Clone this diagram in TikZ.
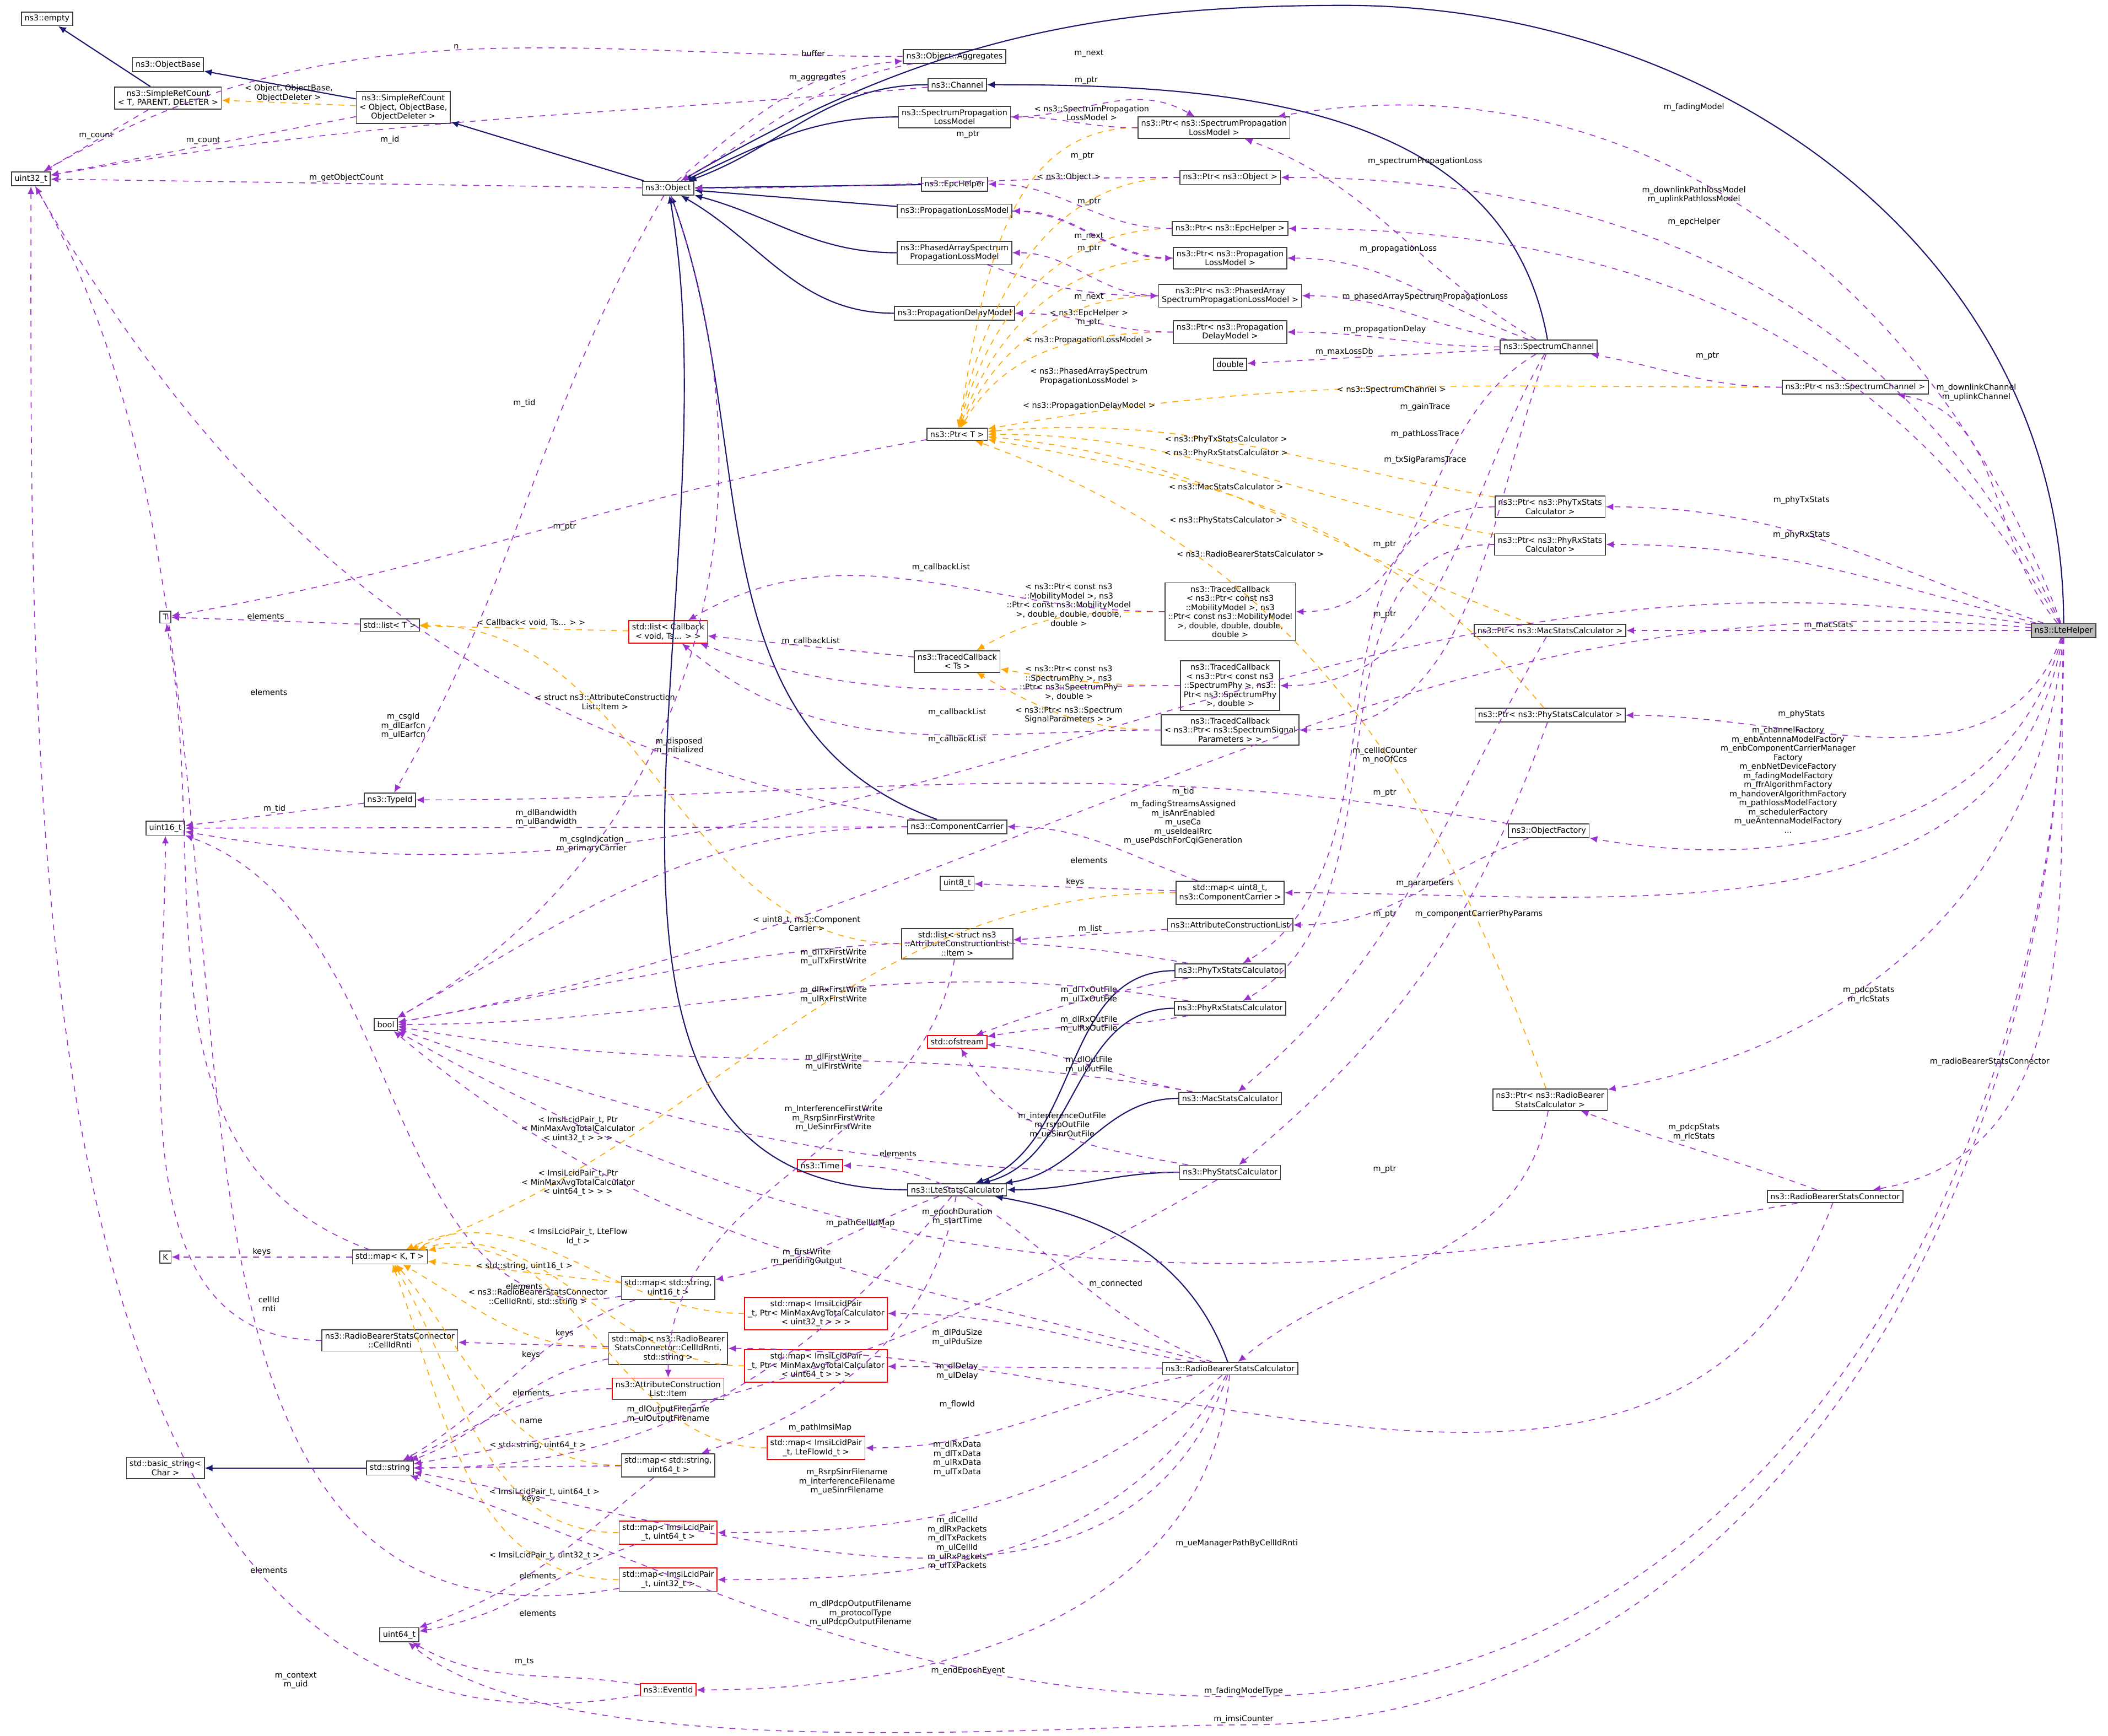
\documentclass[tikz,border=0pt]{standalone}
\usepackage{fontspec}
\setmainfont{DejaVu Sans}
\usetikzlibrary{arrows.meta}
\definecolor{usec}{HTML}{9A32CD}
\definecolor{inhc}{HTML}{191970}
\definecolor{tplc}{HTML}{FFA500}
\tikzset{
 box/.style={draw=black!75,fill=white,font=\fontsize{4.1}{4.7}\selectfont,align=center,inner sep=1.6pt,line width=0.5pt},
 rbox/.style={box,draw=red},
 lbl/.style={font=\fontsize{4.1}{4.7}\selectfont,align=center,inner sep=0.5pt},
 use/.style={draw=usec,dashed,line width=0.45pt,-{Latex[length=4pt,width=3.5pt]}},
 inh/.style={draw=inhc,line width=0.6pt,-{Latex[length=4pt,width=3.5pt]}},
 tpl/.style={draw=tplc,dashed,line width=0.45pt,-{Latex[length=4pt,width=3.5pt]}}
}
\begin{document}
\begin{tikzpicture}[x=0.0244cm,y=-0.0244cm]
\useasboundingbox (0,0) rectangle (1568,1291);
% nodes
\node[box] (empty) at (35,14) {ns3::empty};
\node[box] (objbase) at (125,48) {ns3::ObjectBase};
\node[box] (srcT) at (125,73) {ns3::SimpleRefCount\\< T, PARENT, DELETER >};
\node[box] (u32) at (23,133) {uint32\_t};
\node[box] (srcO) at (300,80) {ns3::SimpleRefCount\\< Object, ObjectBase,\\ObjectDeleter >};
\node[box] (obj) at (497,140) {ns3::Object};
\node[box] (aggr) at (710,42) {ns3::Object::Aggregates};
\node[box] (chan) at (712,63) {ns3::Channel};
\node[box] (splm) at (710,87) {ns3::SpectrumPropagation\\LossModel};
\node[box] (epc) at (710,137) {ns3::EpcHelper};
\node[box] (plm) at (710,157) {ns3::PropagationLossModel};
\node[box] (pas) at (710,188) {ns3::PhasedArraySpectrum\\PropagationLossModel};
\node[box] (pdm) at (710,233) {ns3::PropagationDelayModel};
\node[box] (psplm) at (903,95) {ns3::Ptr< ns3::SpectrumPropagation\\LossModel >};
\node[box] (pobj) at (915,132) {ns3::Ptr< ns3::Object >};
\node[box] (pepc) at (915,170) {ns3::Ptr< ns3::EpcHelper >};
\node[box] (pplm) at (915,192) {ns3::Ptr< ns3::Propagation\\LossModel >};
\node[box] (ppas) at (915,220) {ns3::Ptr< ns3::PhasedArray\\SpectrumPropagationLossModel >};
\node[box] (ppdm) at (915,247) {ns3::Ptr< ns3::Propagation\\DelayModel >};
\node[box] (dbl) at (915,271) {double};
\node[box] (spch) at (1152,258) {ns3::SpectrumChannel};
\node[box] (pspch) at (1380,288) {ns3::Ptr< ns3::SpectrumChannel >};
\node[box] (ptrT) at (712,323) {ns3::Ptr< T >};
\node[box] (pptx) at (1153,377) {ns3::Ptr< ns3::PhyTxStats\\Calculator >};
\node[box] (pprx) at (1153,405) {ns3::Ptr< ns3::PhyRxStats\\Calculator >};
\node[box] (tcmob) at (915,455) {ns3::TracedCallback\\< ns3::Ptr< const ns3\\::MobilityModel >, ns3\\::Ptr< const ns3::MobilityModel\\>, double, double, double,\\double >};
\node[box] (tcts) at (712,492) {ns3::TracedCallback\\< Ts >};
\node[box] (tcphy) at (915,510) {ns3::TracedCallback\\< ns3::Ptr< const ns3\\::SpectrumPhy >, ns3::\\Ptr< ns3::SpectrumPhy\\>, double >};
\node[box] (tcsig) at (915,543) {ns3::TracedCallback\\< ns3::Ptr< ns3::SpectrumSignal\\Parameters > >};
\node[box] (pmac) at (1153,469) {ns3::Ptr< ns3::MacStatsCalculator >};
\node[box] (pphy) at (1153,532) {ns3::Ptr< ns3::PhyStatsCalculator >};
\node[box,fill=black!27] (lte) at (1535,469) {ns3::LteHelper};
\node[box] (T) at (123,459) {T};
\node[box] (listT) at (290,465) {std::list< T >};
\node[rbox] (listcb) at (497,470) {std::list< Callback\\< void, Ts... > >};
\node[box] (u16) at (123,616) {uint16\_t};
\node[box] (tid) at (290,595) {ns3::TypeId};
\node[box] (cc) at (712,615) {ns3::ComponentCarrier};
\node[box] (of) at (1152,618) {ns3::ObjectFactory};
\node[box] (u8) at (712,657) {uint8\_t};
\node[box] (mapcc) at (915,664) {std::map< uint8\_t,\\ns3::ComponentCarrier >};
\node[box] (acl) at (915,688) {ns3::AttributeConstructionList};
\node[box] (listacl) at (712,702) {std::list< struct ns3\\::AttributeConstructionList\\::Item >};
\node[box] (ptx) at (915,722) {ns3::PhyTxStatsCalculator};
\node[box] (prx) at (915,750) {ns3::PhyRxStatsCalculator};
\node[box] (bool) at (287,762) {bool};
\node[rbox] (ofs) at (712,775) {std::ofstream};
\node[box] (mac) at (915,817) {ns3::MacStatsCalculator};
\node[box] (phy) at (915,872) {ns3::PhyStatsCalculator};
\node[box] (prbsc) at (1153,818) {ns3::Ptr< ns3::RadioBearer\\StatsCalculator >};
\node[box] (rbscon) at (1365,890) {ns3::RadioBearerStatsConnector};
\node[rbox] (time) at (610,867) {ns3::Time};
\node[box] (lsc) at (712,885) {ns3::LteStatsCalculator};
\node[box] (K) at (123,935) {K};
\node[box] (mapKT) at (290,935) {std::map< K, T >};
\node[box] (mapsu16) at (497,958) {std::map< std::string,\\uint16\_t >};
\node[box] (cir) at (290,997) {ns3::RadioBearerStatsConnector\\::CellIdRnti};
\node[box] (mapcir) at (497,1003) {std::map< ns3::RadioBearer\\StatsConnector::CellIdRnti,\\std::string >};
\node[rbox] (map32p) at (607,977) {std::map< ImsiLcidPair\\\_t, Ptr< MinMaxAvgTotalCalculator\\< uint32\_t > > >};
\node[rbox] (map64p) at (607,1016) {std::map< ImsiLcidPair\\\_t, Ptr< MinMaxAvgTotalCalculator\\< uint64\_t > > >};
\node[box] (rbsc) at (915,1018) {ns3::RadioBearerStatsCalculator};
\node[rbox] (item) at (497,1033) {ns3::AttributeConstruction\\List::Item};
\node[box] (bstr) at (123,1092) {std::basic\_string<\\Char >};
\node[box] (str) at (290,1092) {std::string};
\node[rbox] (mapflow) at (607,1077) {std::map< ImsiLcidPair\\\_t, LteFlowId\_t >};
\node[box] (mapsu64) at (497,1090) {std::map< std::string,\\uint64\_t >};
\node[rbox] (mapi64) at (497,1140) {std::map< ImsiLcidPair\\\_t, uint64\_t >};
\node[rbox] (mapi32) at (497,1175) {std::map< ImsiLcidPair\\\_t, uint32\_t >};
\node[box] (u64) at (297,1216) {uint64\_t};
\node[rbox] (evid) at (497,1257) {ns3::EventId};
\coordinate (fmt) at (925,1262);
\coordinate (imsi) at (925,1283);
\coordinate (topc) at (1000,4);
% inheritance
\draw[inh] (srcT) -- (empty);
\draw[inh] (srcO) -- (objbase);
\draw[inh] (obj) -- (srcO);
\draw[inh] (chan) to[out=180,in=20] (obj);
\draw[inh] (splm) to[out=180,in=25] (obj);
\draw[inh] (epc) -- (obj);
\draw[inh] (plm) -- (obj);
\draw[inh] (pas) to[out=180,in=-15] (obj);
\draw[inh] (pdm) to[out=180,in=-30] (obj);
\draw[inh] (cc) to[out=160,in=-70] (obj);
\draw[inh] (lsc) to[out=180,in=-80] (obj);
\draw[inh] (spch) to[out=100,in=0] (chan);
\draw[inh] (ptx) to[out=180,in=20] (lsc);
\draw[inh] (prx) to[out=180,in=15] (lsc);
\draw[inh] (mac) to[out=180,in=8] (lsc);
\draw[inh] (phy) to[out=180,in=0] (lsc);
\draw[inh] (rbsc) to[out=110,in=-10] (lsc);
\draw[inh] (str) -- (bstr);
\draw[inh] (lte.north) to[out=90,in=0] (topc) to[out=180,in=30] (obj);
% templates
\draw[tpl] (srcO) -- node[lbl,above]{< Object, ObjectBase,\\ObjectDeleter >} (srcT);
\draw[tpl] (psplm) to[out=180,in=80] (ptrT);
\node[lbl] at (812,84) {< ns3::SpectrumPropagation\\LossModel >};
\draw[tpl] (pobj) to[out=180,in=78] (ptrT);
\node[lbl] at (795,132) {< ns3::Object >};
\draw[tpl] (pepc) to[out=180,in=75] (ptrT);
\node[lbl] at (810,233) {< ns3::EpcHelper >};
\draw[tpl] (pplm) to[out=180,in=70] (ptrT);
\node[lbl] at (810,253) {< ns3::PropagationLossModel >};
\draw[tpl] (ppas) to[out=180,in=65] (ptrT);
\node[lbl] at (810,280) {< ns3::PhasedArraySpectrum\\PropagationLossModel >};
\draw[tpl] (ppdm) to[out=180,in=60] (ptrT);
\node[lbl] at (810,302) {< ns3::PropagationDelayModel >};
\draw[tpl] (pspch) to[out=180,in=10] (ptrT);
\node[lbl] at (1035,290) {< ns3::SpectrumChannel >};
\draw[tpl] (pptx) to[out=170,in=5] (ptrT);
\node[lbl] at (912,327) {< ns3::PhyTxStatsCalculator >};
\draw[tpl] (pprx) to[out=170,in=0] (ptrT);
\node[lbl] at (912,337) {< ns3::PhyRxStatsCalculator >};
\draw[tpl] (pmac) to[out=160,in=-5] (ptrT);
\node[lbl] at (912,362) {< ns3::MacStatsCalculator >};
\draw[tpl] (pphy) to[out=130,in=-10] (ptrT);
\node[lbl] at (912,387) {< ns3::PhyStatsCalculator >};
\draw[tpl] (prbsc) to[out=110,in=-20] (ptrT);
\node[lbl] at (930,412) {< ns3::RadioBearerStatsCalculator >};
\draw[tpl] (tcmob) to[out=180,in=30] (tcts);
\node[lbl] at (795,450) {< ns3::Ptr< const ns3\\::MobilityModel >, ns3\\::Ptr< const ns3::MobilityModel\\>, double, double, double,\\double >};
\draw[tpl] (tcphy) to[out=180,in=-10] (tcts);
\node[lbl] at (795,508) {< ns3::Ptr< const ns3\\::SpectrumPhy >, ns3\\::Ptr< ns3::SpectrumPhy\\>, double >};
\draw[tpl] (tcsig) to[out=180,in=-30] (tcts);
\node[lbl] at (795,532) {< ns3::Ptr< ns3::Spectrum\\SignalParameters > >};
\draw[tpl] (listcb) -- (listT);
\node[lbl] at (395,463) {< Callback< void, Ts... > >};
\draw[tpl] (listacl) to[out=180,in=0] (listT);
\node[lbl] at (450,522) {< struct ns3::AttributeConstruction\\List::Item >};
\draw[tpl] (mapcc) to[out=180,in=20] (mapKT);
\node[lbl] at (600,687) {< uint8\_t, ns3::Component\\Carrier >};
\draw[tpl] (mapsu16) -- (mapKT);
\node[lbl] at (390,942) {< std::string, uint16\_t >};
\draw[tpl] (mapcir) to[out=180,in=-30] (mapKT);
\node[lbl] at (400,965) {< ns3::RadioBearerStatsConnector\\::CellIdRnti, std::string >};
\draw[tpl] (map32p) to[out=180,in=25] (mapKT);
\node[lbl] at (430,840) {< ImsiLcidPair\_t, Ptr\\< MinMaxAvgTotalCalculator\\< uint32\_t > > >};
\draw[tpl] (map64p) to[out=180,in=15] (mapKT);
\node[lbl] at (430,880) {< ImsiLcidPair\_t, Ptr\\< MinMaxAvgTotalCalculator\\< uint64\_t > > >};
\draw[tpl] (mapflow) to[out=180,in=10] (mapKT);
\node[lbl] at (430,920) {< ImsiLcidPair\_t, LteFlow\\Id\_t >};
\draw[tpl] (mapsu64) to[out=180,in=-50] (mapKT);
\node[lbl] at (400,1075) {< std::string, uint64\_t >};
\draw[tpl] (mapi64) to[out=180,in=-60] (mapKT);
\node[lbl] at (405,1110) {< ImsiLcidPair\_t, uint64\_t >};
\draw[tpl] (mapi32) to[out=180,in=-70] (mapKT);
\node[lbl] at (405,1157) {< ImsiLcidPair\_t, uint32\_t >};
% usage
\draw[use] (aggr) to[out=180,in=30] node[lbl,pos=0.5,above]{n} (u32);
\draw[use] (aggr) to[out=190,in=30] (obj);
\node[lbl] at (605,40) {buffer};
\draw[use] (obj) to[out=40,in=185] (aggr);
\node[lbl] at (608,58) {m\_aggregates};
\draw[use] (srcT) -- node[lbl,above]{m\_count} (u32);
\draw[use] (srcO) -- node[lbl,above]{m\_count} (u32);
\draw[use] (chan) to[out=185,in=10] (u32);
\node[lbl] at (290,104) {m\_id};
\draw[use] (obj) -- node[lbl,above]{m\_getObjectCount} (u32);
\draw[use] (obj) to[out=-120,in=60] (tid);
\node[lbl] at (390,300) {m\_tid};
\draw[use] (obj) to[out=-70,in=30] (bool);
\node[lbl] at (505,555) {m\_disposed\\m\_initialized};
\draw[use] (splm) to[out=0,in=150] (psplm);
\node[lbl] at (810,40) {m\_next};
\draw[use] (psplm) to[out=180,in=0] (splm);
\node[lbl] at (808,60) {m\_ptr};
\draw[use] (pobj) to[out=180,in=0] (obj);
\node[lbl] at (720,100) {m\_ptr};
\draw[use] (pepc) to[out=180,in=0] (epc);
\node[lbl] at (805,116) {m\_ptr};
\draw[use] (plm) to[out=0,in=180] (pplm);
\node[lbl] at (810,176) {m\_next};
\draw[use] (pplm) to[out=180,in=0] (plm);
\node[lbl] at (810,150) {m\_ptr};
\draw[use] (pas) to[out=-20,in=180] (ppas);
\node[lbl] at (810,221) {m\_next};
\draw[use] (ppas) to[out=180,in=0] (pas);
\node[lbl] at (810,185) {m\_ptr};
\draw[use] (ppdm) to[out=180,in=0] (pdm);
\node[lbl] at (810,240) {m\_ptr};
\draw[use] (spch) to[out=150,in=-20] (psplm);
\node[lbl] at (1060,120) {m\_spectrumPropagationLoss};
\draw[use] (spch) to[out=160,in=0] (pplm);
\node[lbl] at (1040,185) {m\_propagationLoss};
\draw[use] (spch) to[out=170,in=0] (ppas);
\node[lbl] at (1060,221) {m\_phasedArraySpectrumPropagationLoss};
\draw[use] (spch) to[out=180,in=0] (ppdm);
\node[lbl] at (1030,245) {m\_propagationDelay};
\draw[use] (spch) -- (dbl);
\node[lbl] at (1000,262) {m\_maxLossDb};
\draw[use] (spch) to[out=-150,in=0] (tcmob);
\node[lbl] at (1060,303) {m\_gainTrace};
\draw[use] (spch) to[out=-120,in=0] (tcphy);
\node[lbl] at (1060,323) {m\_pathLossTrace};
\draw[use] (spch) to[out=-110,in=0] (tcsig);
\node[lbl] at (1060,342) {m\_txSigParamsTrace};
\draw[use] (pspch) to[out=180,in=-10] (spch);
\node[lbl] at (1270,265) {m\_ptr};
\draw[use] (ptrT) to[out=190,in=10] (T);
\node[lbl] at (420,392) {m\_ptr};
\draw[use] (listT) -- node[lbl,above]{elements} (T);
\draw[use] (mapKT) to[out=160,in=-80] (T);
\node[lbl] at (200,515) {elements};
\draw[use] (tcts) -- node[lbl,above]{m\_callbackList} (listcb);
\draw[use] (tcmob) to[out=180,in=30] (listcb);
\node[lbl] at (700,422) {m\_callbackList};
\draw[use] (tcphy) to[out=180,in=-20] (listcb);
\node[lbl] at (712,530) {m\_callbackList};
\draw[use] (tcsig) to[out=180,in=-40] (listcb);
\node[lbl] at (712,550) {m\_callbackList};
\draw[use] (cc) -- node[lbl,above]{m\_dlBandwidth\\m\_ulBandwidth} (u16);
\draw[use] (cc) to[out=170,in=-60] (u32);
\node[lbl] at (300,540) {m\_csgId\\m\_dlEarfcn\\m\_ulEarfcn};
\draw[use] (cc) to[out=180,in=30] (bool);
\node[lbl] at (440,628) {m\_csgIndication\\m\_primaryCarrier};
\draw[use] (tid) -- node[lbl,above]{m\_tid} (u16);
\draw[use] (of) to[out=170,in=0] (tid);
\node[lbl] at (880,589) {m\_tid};
\draw[use] (of) to[out=-160,in=0] (acl);
\node[lbl] at (1060,657) {m\_parameters};
\draw[use] (acl) -- node[lbl,above]{m\_list} (listacl);
\draw[use] (mapcc) -- node[lbl,above]{keys} (u8);
\draw[use] (mapcc) to[out=160,in=0] (cc);
\node[lbl] at (810,640) {elements};
\draw[use] (mapKT) -- node[lbl,above]{keys} (K);
\draw[use] (ptx) to[out=170,in=10] (bool);
\node[lbl] at (620,712) {m\_dlTxFirstWrite\\m\_ulTxFirstWrite};
\draw[use] (ptx) to[out=190,in=20] (ofs);
\node[lbl] at (810,740) {m\_dlTxOutFile\\m\_ulTxOutFile};
\draw[use] (prx) to[out=170,in=0] (bool);
\node[lbl] at (620,740) {m\_dlRxFirstWrite\\m\_ulRxFirstWrite};
\draw[use] (prx) to[out=190,in=10] (ofs);
\node[lbl] at (810,762) {m\_dlRxOutFile\\m\_ulRxOutFile};
\draw[use] (mac) to[out=170,in=-10] (bool);
\node[lbl] at (620,790) {m\_dlFirstWrite\\m\_ulFirstWrite};
\draw[use] (mac) to[out=170,in=-5] (ofs);
\node[lbl] at (810,792) {m\_dlOutFile\\m\_ulOutFile};
\draw[use] (phy) to[out=180,in=-20] (bool);
\node[lbl] at (620,832) {m\_InterferenceFirstWrite\\m\_RsrpSinrFirstWrite\\m\_UeSinrFirstWrite};
\draw[use] (phy) to[out=170,in=-60] (ofs);
\node[lbl] at (790,837) {m\_interferenceOutFile\\m\_rsrpOutFile\\m\_ueSinrOutFile};
\draw[use] (phy) to[out=-150,in=10] (str);
\node[lbl] at (630,1102) {m\_RsrpSinrFilename\\m\_interferenceFilename\\m\_ueSinrFilename};
\draw[use] (pptx) to[out=180,in=30] (ptx);
\node[lbl] at (1030,405) {m\_ptr};
\draw[use] (pprx) to[out=180,in=30] (prx);
\node[lbl] at (1030,457) {m\_ptr};
\draw[use] (pmac) to[out=-120,in=40] (mac);
\node[lbl] at (1030,590) {m\_ptr};
\draw[use] (pphy) to[out=-110,in=40] (phy);
\node[lbl] at (1030,680) {m\_ptr};
\draw[use] (prbsc) to[out=-100,in=40] (rbsc);
\node[lbl] at (1030,870) {m\_ptr};
\draw[use] (lsc) to[out=-130,in=0] (str);
\node[lbl] at (497,1052) {m\_dlOutputFilename\\m\_ulOutputFilename};
\draw[use] (lsc) to[out=-160,in=10] (mapsu16);
\node[lbl] at (640,910) {m\_pathCellIdMap};
\draw[use] (lsc) to[out=-100,in=20] (mapsu64);
\node[lbl] at (610,1062) {m\_pathImsiMap};
\draw[use] (rbsc) to[out=160,in=0] (time);
\node[lbl] at (712,905) {m\_epochDuration\\m\_startTime};
\draw[use] (rbsc) to[out=165,in=-40] (bool);
\node[lbl] at (600,935) {m\_firstWrite\\m\_pendingOutput};
\draw[use] (rbsc) to[out=170,in=0] (map32p);
\node[lbl] at (712,995) {m\_dlPduSize\\m\_ulPduSize};
\draw[use] (rbsc) -- (map64p);
\node[lbl] at (712,1020) {m\_dlDelay\\m\_ulDelay};
\draw[use] (rbsc) to[out=190,in=0] (mapflow);
\node[lbl] at (712,1045) {m\_flowId};
\draw[use] (rbsc) to[out=-140,in=0] (mapi64);
\node[lbl] at (712,1085) {m\_dlRxData\\m\_dlTxData\\m\_ulRxData\\m\_ulTxData};
\draw[use] (rbsc) to[out=-120,in=0] (mapi32);
\node[lbl] at (712,1148) {m\_dlCellId\\m\_dlRxPackets\\m\_dlTxPackets\\m\_ulCellId\\m\_ulRxPackets\\m\_ulTxPackets};
\draw[use] (rbsc) to[out=-110,in=-10] (str);
\node[lbl] at (640,1200) {m\_dlPdcpOutputFilename\\m\_protocolType\\m\_ulPdcpOutputFilename};
\draw[use] (rbsc) to[out=-95,in=0] (evid);
\node[lbl] at (720,1243) {m\_endEpochEvent};
\draw[use] (rbscon) to[out=160,in=-20] (prbsc);
\node[lbl] at (1260,842) {m\_pdcpStats\\m\_rlcStats};
\draw[use] (rbscon) to[out=190,in=-30] (bool);
\node[lbl] at (830,955) {m\_connected};
\draw[use] (rbscon) to[out=-110,in=0] (mapcir);
\node[lbl] at (920,1148) {m\_ueManagerPathByCellIdRnti};
\draw[use] (cir) to[out=180,in=-90] (u16);
\node[lbl] at (200,970) {cellId\\rnti};
\draw[use] (mapsu16) to[out=190,in=-20] (u16);
\node[lbl] at (390,957) {elements};
\draw[use] (mapsu16) to[out=-160,in=30] (str);
\node[lbl] at (395,1008) {keys};
\draw[use] (mapcir) -- (cir);
\node[lbl] at (420,992) {keys};
\draw[use] (mapcir) to[out=-170,in=20] (str);
\node[lbl] at (395,1036) {elements};
\draw[use] (item) to[out=180,in=25] (str);
\node[lbl] at (395,1057) {name};
\draw[use] (listacl) to[out=-100,in=90] (item);
\node[lbl] at (668,858) {elements};
\draw[use] (mapsu64) -- (str);
\node[lbl] at (395,1115) {keys};
\draw[use] (mapsu64) to[out=-140,in=20] (u64);
\node[lbl] at (400,1172) {elements};
\draw[use] (mapi64) to[out=200,in=10] (u64);
\draw[use] (mapi32) to[out=190,in=-60] (u32);
\node[lbl] at (200,1168) {elements};
\node[lbl] at (400,1200) {elements};
\draw[use] (evid) to[out=170,in=-30] (u64);
\node[lbl] at (390,1236) {m\_ts};
\draw[use] (evid) to[out=190,in=-90] (u32);
\node[lbl] at (220,1250) {m\_context\\m\_uid};
% LteHelper
\draw[use] (lte) to[out=110,in=10] (psplm);
\node[lbl] at (1260,80) {m\_fadingModel};
\draw[use] (lte) to[out=115,in=0] (pobj);
\node[lbl] at (1260,145) {m\_downlinkPathlossModel\\m\_uplinkPathlossModel};
\draw[use] (lte) to[out=120,in=0] (pepc);
\node[lbl] at (1260,165) {m\_epcHelper};
\draw[use] (lte) to[out=130,in=-10] (pspch);
\node[lbl] at (1470,292) {m\_downlinkChannel\\m\_uplinkChannel};
\draw[use] (lte) to[out=160,in=0] (pptx);
\node[lbl] at (1340,372) {m\_phyTxStats};
\draw[use] (lte) to[out=165,in=0] (pprx);
\node[lbl] at (1340,398) {m\_phyRxStats};
\draw[use] (lte) -- node[lbl,above]{m\_macStats} (pmac);
\draw[use] (lte) to[out=-110,in=0] (pphy);
\node[lbl] at (1340,531) {m\_phyStats};
\draw[use] (lte) to[out=-105,in=-10] (of);
\node[lbl] at (1330,580) {m\_channelFactory\\m\_enbAntennaModelFactory\\m\_enbComponentCarrierManager\\Factory\\m\_enbNetDeviceFactory\\m\_fadingModelFactory\\m\_ffrAlgorithmFactory\\m\_handoverAlgorithmFactory\\m\_pathlossModelFactory\\m\_schedulerFactory\\m\_ueAntennaModelFactory\\...};
\draw[use] (lte) to[out=-100,in=0] (mapcc);
\node[lbl] at (1100,680) {m\_componentCarrierPhyParams};
\draw[use] (lte) to[out=-95,in=10] (prbsc);
\node[lbl] at (1390,740) {m\_pdcpStats\\m\_rlcStats};
\draw[use] (lte) to[out=-92,in=10] (rbscon);
\node[lbl] at (1480,790) {m\_radioBearerStatsConnector};
\draw[use] (lte) to[out=170,in=-10] (u16);
\node[lbl] at (1030,562) {m\_cellIdCounter\\m\_noOfCcs};
\draw[use] (lte) to[out=175,in=10] (bool);
\node[lbl] at (880,612) {m\_fadingStreamsAssigned\\m\_isAnrEnabled\\m\_useCa\\m\_useIdealRrc\\m\_usePdschForCqiGeneration};
\draw[use] (lte.south) to[out=-90,in=0] (fmt) to[out=180,in=-20] (str);
\node[lbl,above] at (fmt) {m\_fadingModelType};
\draw[use] (lte.south) to[out=-90,in=0] (imsi) to[out=180,in=-40,looseness=0.6] (u64);
\node[lbl,above] at (imsi) {m\_imsiCounter};
\end{tikzpicture}
\end{document}
